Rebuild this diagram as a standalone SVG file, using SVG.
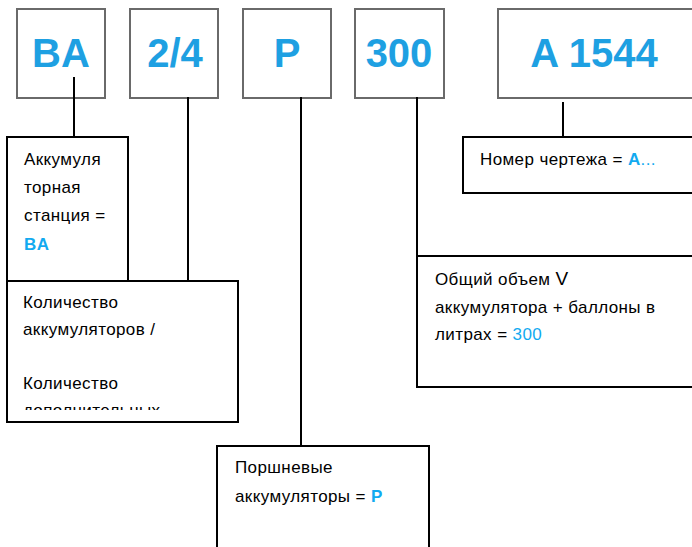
<svg xmlns="http://www.w3.org/2000/svg" width="692" height="547" viewBox="0 0 692 547">
<style>
.code{fill:#fff;stroke:#6a6a6a;stroke-width:2}
.codet{font-family:"Liberation Sans",Arial,sans-serif;font-weight:bold;font-size:40px;fill:#1ea0e2;text-anchor:middle}
.box{fill:#fff;stroke:#000;stroke-width:2}
.t{font-family:"Liberation Sans",Arial,sans-serif;font-size:17px;fill:#000;letter-spacing:0.4px}
.b{fill:#12aaf0}
.bb{fill:#12aaf0;font-weight:bold}
.con{stroke:#000;stroke-width:2;fill:none}
</style>
<defs>
<clipPath id="clipQ"><rect x="0" y="270" width="300" height="140"/></clipPath>
</defs>
<rect width="692" height="547" fill="#fff"/>
<g id="code-BA"><rect class="code" x="17" y="9" width="88" height="89"/><text class="codet" x="61" y="67">BA</text></g>
<g id="code-24"><rect class="code" x="130" y="9" width="88" height="89"/><text class="codet" x="175" y="67">2/4</text></g>
<g id="code-P"><rect class="code" x="243" y="9" width="88" height="89"/><text class="codet" x="287" y="67">P</text></g>
<g id="code-300"><rect class="code" x="355" y="9" width="89" height="89"/><text class="codet" x="399" y="67">300</text></g>
<g id="code-A1544"><rect class="code" x="498" y="9" width="210" height="89"/><text class="codet" x="594" y="67">A 1544</text></g>
<g id="connectors">
<line class="con" x1="74" y1="77" x2="74" y2="137"/>
<line class="con" x1="188" y1="97" x2="188" y2="281"/>
<line class="con" x1="301" y1="97" x2="301" y2="446"/>
<line class="con" x1="417" y1="97" x2="417" y2="256"/>
<line class="con" x1="563" y1="102" x2="563" y2="137"/>
</g>
<g id="node-station"><rect class="box" x="7" y="137" width="121" height="150"/>
<text class="t" x="24" y="165">Аккумуля</text>
<text class="t" x="24" y="193">торная</text>
<text class="t" x="24" y="221">станция =</text>
<text class="t bb" x="24" y="250">BA</text></g>
<g id="node-count"><rect class="box" x="7" y="281" width="231" height="141"/>
<g clip-path="url(#clipQ)">
<text class="t" x="23" y="308">Количество</text>
<text class="t" x="23" y="335">аккумуляторов /</text>
<text class="t" x="23" y="389">Количество</text>
<text class="t" x="23" y="416">дополнительных</text>
</g></g>
<g id="node-drawing"><rect class="box" x="463" y="137" width="240" height="56"/>
<text class="t" x="480" y="165">Номер чертежа = <tspan class="bb">A</tspan><tspan class="b">...</tspan></text></g>
<g id="node-volume"><rect class="box" x="417" y="256" width="290" height="131"/>
<text class="t" x="435" y="285">Общий объем <tspan font-size="19px">V</tspan></text>
<text class="t" x="435" y="313">аккумулятора + баллоны в</text>
<text class="t" x="435" y="340">литрах = <tspan class="b">300</tspan></text></g>
<g id="node-piston"><rect class="box" x="217" y="446" width="212" height="120"/>
<text class="t" x="235" y="473">Поршневые</text>
<text class="t" x="235" y="502">аккумуляторы = <tspan class="bb">P</tspan></text></g>
</svg>
